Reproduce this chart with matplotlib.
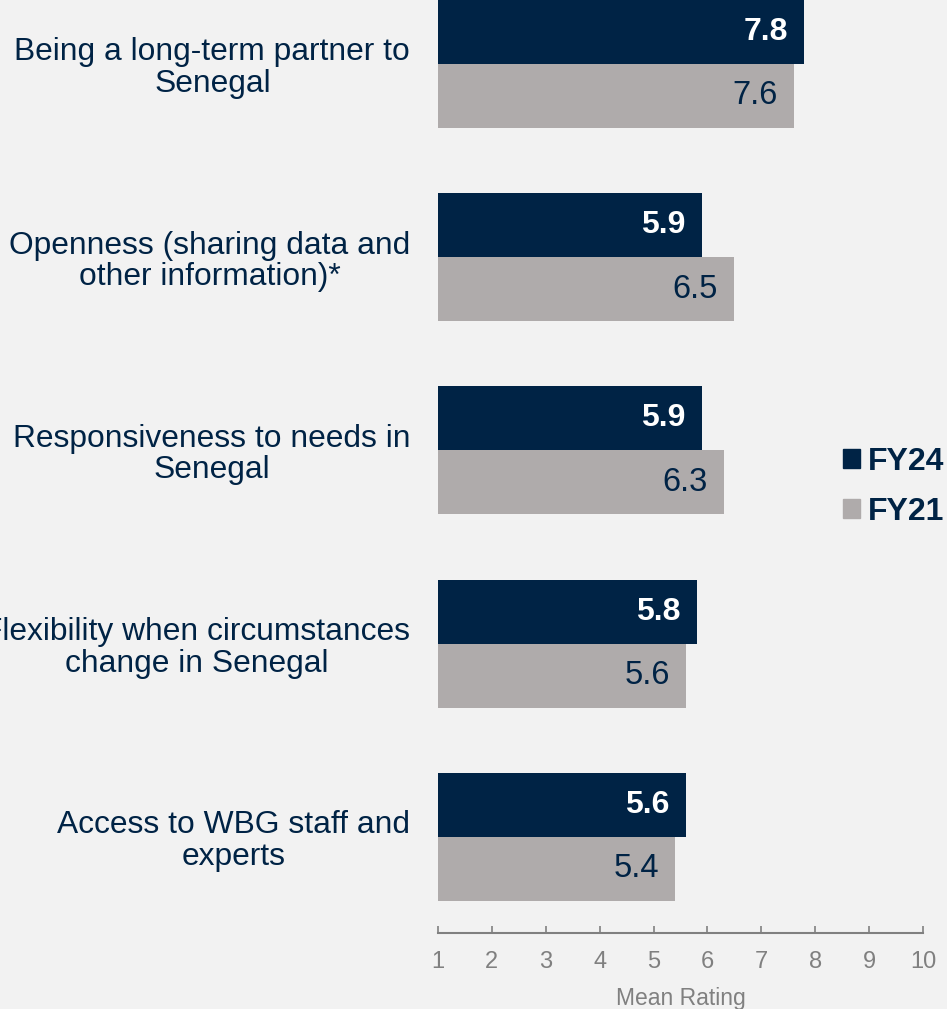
import matplotlib
matplotlib.use('Agg')
import matplotlib.pyplot as plt
import numpy as np
from matplotlib.patches import Patch

categories = ["Being a long-term partner to\nSenegal",
              "Openness (sharing data and\nother information)*",
              "Responsiveness to needs in\nSenegal",
              "Flexibility when circumstances\nchange in Senegal",
              "Access to WBG staff and\nexperts"]
fy24 = [7.8, 5.9, 5.9, 5.8, 5.6]
fy21 = [7.6, 6.5, 6.3, 5.6, 5.4]
series_names = ["FY24", "FY21"]
xticks = [1, 2, 3, 4, 5, 6, 7, 8, 9, 10]

navy = "#002345"
grey = "#afabab"
bg = "#f2f2f2"
axis_grey = "#808080"

plt.rcParams['font.family'] = ['Liberation Sans', 'DejaVu Sans']

fig = plt.figure(figsize=(9.47, 10.09), dpi=100, facecolor=bg)
ax = fig.add_axes([438/947, 1 - 933/1009, 485/947, 933/1009])
ax.set_facecolor(bg)

y = np.arange(len(categories))
h = 0.331
ax.barh(y - h/2, np.array(fy24) - 1, left=1, height=h, color=navy)
ax.barh(y + h/2, np.array(fy21) - 1, left=1, height=h, color=grey)

for v, yy in zip(fy24, y):
    ax.text(v - 0.3, yy - h/2, "%.1f" % v, ha='right', va='center',
            color='white', fontsize=23, fontweight='bold')
for v, yy in zip(fy21, y):
    ax.text(v - 0.3, yy + h/2, "%.1f" % v, ha='right', va='center',
            color=navy, fontsize=23.5)

ax.set_xlim(1, 10)
ax.set_ylim(4.497, -0.331)
ax.set_xticks(xticks)
ax.set_xticklabels([str(t) for t in xticks])
ax.set_yticks(y)
ax.set_yticklabels(categories, fontsize=22.85, color=navy,
                   multialignment='center', linespacing=1.06)
ax.tick_params(axis='y', length=0, pad=20)
ax.tick_params(axis='x', direction='in', length=5, width=1.2, colors=axis_grey,
               labelsize=17, pad=13)
for s in ['top', 'right', 'left']:
    ax.spines[s].set_visible(False)
ax.spines['bottom'].set_color(axis_grey)
ax.spines['bottom'].set_linewidth(1.5)
ax.set_xlabel("Mean Rating", fontsize=16.5, color=axis_grey, labelpad=10)

handles = [Patch(color=navy), Patch(color=grey)]
leg = fig.legend(handles, series_names, loc='center left',
                 bbox_to_anchor=(843/947, 1 - 487/1009), frameon=False,
                 handlelength=0.52, handleheight=0.52, handletextpad=0.25,
                 labelspacing=0.62, borderpad=0, borderaxespad=0,
                 prop={'size': 23, 'weight': 'bold'})
for t in leg.get_texts():
    t.set_color(navy)

fig.savefig("out.png", dpi=100, facecolor=bg)
